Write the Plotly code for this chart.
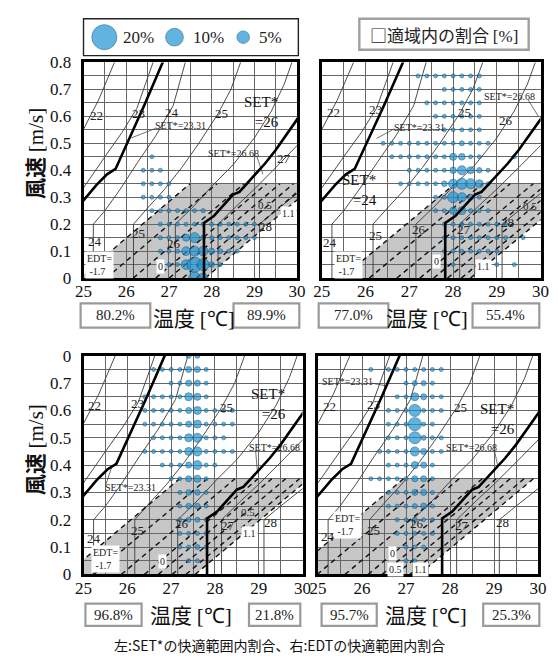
import plotly.graph_objects as go

W, H = 558, 666
SERIF = "Liberation Serif"
CJK = "Noto Sans CJK JP"

# ---------------- data ----------------
X_TICKS = [25, 26, 27, 28, 29, 30]
Y_TICKS = [0.0, 0.1, 0.2, 0.3, 0.4, 0.5, 0.6, 0.7, 0.8]
Y_LABELS_TOP = ["0", "0.1", "0.2", "0.3", "0.4", "0.5", "0.6", "0.7", "0.8"]
Y_LABELS_BOTTOM = ["0", "0.1", "0.2", "0.3", "0.4", "0.5", "0.6", "0.7", "0"]

LEGEND_PCT = [20, 10, 5]
LEGEND_LABELS = ["20%", "10%", "5%"]

# SET* iso-lines (temperature, air speed)
SET_THIN = {
    "22": ([24.7, 25.0, 25.35, 25.75], [0.46, 0.555, 0.66, 0.81]),
    "23": ([24.6, 25.0, 25.5, 25.9, 26.25, 26.65], [0.25, 0.335, 0.45, 0.54, 0.63, 0.81]),
    "24": ([25.23, 25.23, 25.5, 25.86, 26.27, 26.7, 27.1, 27.4], [0.0, 0.2, 0.25, 0.33, 0.43, 0.53, 0.64, 0.81]),
    "25": ([26.17, 26.17, 26.5, 26.9, 27.3, 27.7, 28.15, 28.45, 28.7], [0.0, 0.2, 0.26, 0.33, 0.41, 0.5, 0.61, 0.7, 0.81]),
    "26": ([27.15, 27.15, 27.6, 28.0, 28.5, 29.0, 29.4, 29.7, 29.9], [0.0, 0.2, 0.27, 0.34, 0.42, 0.52, 0.62, 0.72, 0.81]),
    "27": ([28.15, 28.15, 28.6, 29.0, 29.5, 30.05], [0.0, 0.2, 0.27, 0.33, 0.41, 0.5]),
    "28": ([29.12, 29.12, 29.5, 30.05], [0.0, 0.2, 0.25, 0.32]),
}
SET_THICK = {
    "23.31": ([24.5, 25.0, 25.3, 25.55, 25.75, 26.08, 26.42, 26.88], [0.2, 0.288, 0.345, 0.385, 0.405, 0.52, 0.64, 0.81]),
    "26.68": ([27.82, 27.82, 28.05, 28.5, 28.65, 29.05, 29.25, 29.5, 29.75, 30.05], [0.0, 0.205, 0.23, 0.31, 0.32, 0.39, 0.425, 0.475, 0.53, 0.6]),
}

# EDT comfort band (-1.7 .. 1.1, v < 0.35), per panel
EDT_VALUES = [-1.7, -1.1, -0.5, 0.0, 0.3, 0.6, 0.9, 1.1]
EDT_LEFT = [24.9, 25.45, 24.6, 24.35]     # x at v=0 of EDT=-1.7
EDT_RIGHT = [27.85, 28.4, 27.55, 27.3]    # x at v=0 of EDT=+1.1
EDT_SLOPE = 0.135
EDT_VTOP = 0.35

# bubble data: {air speed: [(temperature, share %), ...]}
TL_BUBBLES = {
    0.45: [(26.6, 0.13)],
    0.40: [(26.4, 0.13), (26.6, 0.5), (26.8, 0.13)],
    0.35: [(26.4, 0.13), (26.6, 0.2), (26.8, 0.3), (27.0, 0.13)],
    0.30: [(26.4, 0.13), (26.6, 0.3), (26.8, 0.3), (27.0, 0.3)],
    0.25: [(26.6, 0.13), (26.8, 0.3), (27.0, 0.3), (27.2, 0.3), (27.4, 0.3), (27.6, 0.3), (27.8, 0.6)],
    0.20: [(26.8, 0.13), (27.0, 0.3), (27.2, 0.3), (27.4, 0.3), (27.6, 0.3), (27.8, 0.2), (28.0, 0.3),
           (28.2, 0.3), (28.4, 0.2), (28.6, 0.2), (28.8, 0.13), (29.0, 0.13)],
    0.15: [(26.8, 0.13), (27.0, 0.3), (27.2, 0.5), (27.4, 1.6), (27.6, 3.2), (27.8, 0.8), (28.0, 0.3),
           (28.2, 0.5), (28.4, 0.5), (28.6, 0.4), (28.8, 0.3), (29.0, 0.13)],
    0.10: [(26.8, 0.13), (27.0, 0.13), (27.2, 0.6), (27.4, 2.4), (27.6, 3.2), (27.8, 3.0), (28.0, 1.15),
           (28.2, 0.8), (28.4, 0.5), (28.6, 0.2)],
    0.05: [(27.0, 0.13), (27.2, 0.4), (27.4, 3.0), (27.6, 7.2), (27.8, 4.6), (28.0, 1.0), (28.2, 0.4)],
    0.00: [(27.6, 4.6), (27.8, 3.2)],
}
TR_BUBBLES = {
    0.75: [(27.2, 0.13), (27.4, 0.13), (27.6, 0.13), (27.8, 0.13), (28.0, 0.13), (28.2, 0.13), (28.4, 0.5), (28.6, 0.13)],
    0.70: [(27.8, 0.13), (28.0, 0.13), (28.2, 0.13), (28.4, 0.3), (28.6, 0.13)],
    0.65: [(27.4, 0.13), (27.6, 0.13), (27.8, 0.13), (28.0, 0.13), (28.2, 0.13), (28.4, 0.5), (28.6, 0.13)],
    0.60: [(27.6, 0.13), (27.8, 0.13), (28.0, 0.13), (28.2, 0.3), (28.4, 0.5), (28.6, 0.13)],
    0.55: [(27.8, 0.13), (28.0, 0.13), (28.2, 0.3), (28.4, 0.5), (28.6, 0.13)],
    0.50: [(26.4, 0.13), (26.6, 0.13), (26.8, 0.13), (27.0, 0.13), (27.2, 0.13), (27.4, 0.13), (27.6, 0.13),
           (27.8, 0.13), (28.0, 0.13), (28.2, 0.8), (28.4, 0.5), (28.6, 0.3), (28.8, 0.13)],
    0.45: [(26.6, 0.13), (26.8, 0.13), (27.0, 0.2), (27.2, 0.3), (27.4, 0.2), (27.6, 0.3), (27.8, 0.3),
           (28.0, 1.6), (28.2, 1.4), (28.4, 0.5), (28.6, 0.2), (29.4, 0.13)],
    0.40: [(27.0, 0.3), (27.2, 0.3), (27.4, 0.3), (27.6, 0.3), (27.8, 0.5), (28.0, 1.3), (28.2, 2.6),
           (28.4, 1.6), (28.6, 0.9), (28.8, 0.13)],
    0.35: [(26.8, 0.13), (27.0, 0.13), (27.2, 0.13), (27.4, 0.13), (27.6, 0.3), (27.8, 1.0), (28.0, 2.6),
           (28.2, 3.9), (28.4, 3.2), (28.6, 2.0), (28.8, 0.13)],
    0.30: [(27.6, 0.3), (27.8, 0.5), (28.0, 3.9), (28.2, 2.6), (28.4, 1.15), (28.6, 0.3)],
    0.25: [(27.6, 0.13), (27.8, 0.5), (28.0, 1.6), (28.2, 2.0), (28.4, 0.6), (28.6, 0.3), (28.8, 0.13)],
    0.20: [(27.8, 0.3), (28.0, 0.5), (28.2, 0.5), (28.4, 0.5), (28.6, 0.5), (28.8, 0.4), (29.0, 0.13), (29.2, 0.13)],
    0.15: [(27.8, 0.3), (28.0, 0.3), (28.2, 0.5), (28.4, 0.3), (28.6, 0.3), (28.8, 0.3), (29.0, 0.13),
           (29.2, 0.13), (29.6, 0.13)],
    0.10: [(27.8, 0.13), (28.0, 0.3), (28.2, 0.3), (28.4, 0.3), (28.6, 0.3), (28.8, 0.3), (29.0, 0.2)],
    0.05: [(28.0, 0.13), (29.0, 0.13), (29.4, 0.13)],
}
BL_BUBBLES = {
    0.80: [(27.4, 0.8), (27.6, 0.8)],
    0.75: [(26.6, 0.13), (26.8, 0.13), (27.0, 0.13), (27.2, 0.3), (27.4, 1.15), (27.6, 1.15), (27.8, 0.3)],
    0.70: [(27.0, 0.13), (27.2, 0.3), (27.4, 1.15), (27.6, 1.15), (27.8, 0.3)],
    0.65: [(26.4, 0.13), (26.6, 0.13), (26.8, 0.13), (27.0, 0.13), (27.2, 0.3), (27.4, 2.0), (27.6, 1.6), (27.8, 0.3)],
    0.60: [(26.4, 0.13), (26.6, 0.13), (26.8, 0.13), (27.0, 0.13), (27.2, 0.3), (27.4, 1.15), (27.6, 2.0),
           (27.8, 0.3), (28.0, 0.13), (28.2, 0.13), (28.4, 0.13)],
    0.55: [(26.4, 0.13), (26.6, 0.13), (26.8, 0.13), (27.0, 0.13), (27.2, 0.3), (27.4, 1.15), (27.6, 2.0),
           (27.8, 0.3), (28.0, 0.13), (28.2, 0.13), (28.4, 0.13)],
    0.50: [(26.6, 0.13), (26.8, 0.13), (27.0, 0.13), (27.2, 0.3), (27.4, 2.0), (27.6, 2.6), (27.8, 0.3),
           (28.0, 0.13), (28.2, 0.13)],
    0.45: [(26.4, 0.13), (26.6, 0.13), (26.8, 0.13), (27.0, 0.13), (27.2, 0.3), (27.4, 2.0), (27.6, 2.6),
           (27.8, 0.3), (28.0, 0.13), (28.2, 0.13), (28.4, 0.13)],
    0.40: [(26.8, 0.13), (27.0, 0.13), (27.2, 0.3), (27.4, 1.15), (27.6, 2.6), (27.8, 0.3), (28.0, 0.13)],
    0.35: [(27.0, 0.13), (27.2, 0.3), (27.4, 1.15), (27.6, 1.6), (27.8, 0.3)],
    0.30: [(27.2, 0.3), (27.4, 1.0), (27.6, 1.0), (27.8, 0.3)],
    0.25: [(27.2, 0.3), (27.4, 1.0), (27.6, 1.0), (27.8, 0.3)],
    0.20: [(27.2, 0.3), (27.4, 0.8), (27.6, 0.8), (27.8, 0.3)],
    0.15: [(27.2, 0.3), (27.4, 0.5), (27.6, 0.5), (27.8, 0.3)],
    0.10: [(27.2, 0.3), (27.4, 0.5), (27.6, 0.8), (27.8, 0.3)],
    0.05: [(27.4, 0.3), (27.6, 0.3)],
}
BR_BUBBLES = {
    0.75: [(26.2, 0.13), (26.6, 0.13), (26.8, 0.13), (27.0, 0.3), (27.2, 0.3), (27.4, 0.3), (27.6, 0.13), (27.8, 0.13)],
    0.70: [(27.0, 0.3), (27.2, 0.8), (27.4, 0.8), (27.6, 0.13)],
    0.65: [(26.8, 0.13), (27.0, 0.3), (27.2, 2.0), (27.4, 1.15), (27.6, 0.13), (27.8, 0.13)],
    0.60: [(26.6, 0.13), (26.8, 0.13), (27.0, 0.3), (27.2, 4.6), (27.4, 0.5), (27.6, 0.3), (27.8, 0.13)],
    0.55: [(26.6, 0.13), (26.8, 0.2), (27.0, 0.3), (27.2, 5.4), (27.4, 0.5), (27.6, 0.13)],
    0.50: [(26.6, 0.13), (26.8, 0.2), (27.0, 0.3), (27.2, 4.6), (27.4, 0.8), (27.6, 0.3), (27.8, 0.13)],
    0.45: [(26.4, 0.13), (26.6, 0.13), (26.8, 0.13), (27.0, 0.3), (27.2, 2.6), (27.4, 1.15), (27.6, 0.3), (27.8, 0.13)],
    0.40: [(26.6, 0.13), (26.8, 0.13), (27.0, 0.3), (27.2, 1.6), (27.4, 1.15), (27.6, 0.3)],
    0.35: [(26.2, 0.13), (26.4, 0.13), (26.6, 0.13), (26.8, 0.3), (27.0, 0.3), (27.2, 1.15), (27.4, 1.15), (27.6, 0.3)],
    0.30: [(26.6, 0.13), (26.8, 0.3), (27.0, 0.5), (27.2, 1.15), (27.4, 1.15), (27.6, 0.3)],
    0.25: [(26.6, 0.13), (26.8, 0.3), (27.0, 0.5), (27.2, 0.8), (27.4, 1.15), (27.6, 0.3)],
    0.20: [(26.8, 0.3), (27.0, 0.3), (27.2, 0.8), (27.4, 0.5), (27.6, 0.3)],
    0.15: [(26.8, 0.3), (27.0, 0.3), (27.2, 0.3), (27.4, 0.5), (27.6, 0.3)],
    0.10: [(27.0, 0.3), (27.2, 0.3), (27.4, 0.3)],
    0.05: [(27.0, 0.13), (27.2, 0.13)],
}
PANEL_BUBBLES = [TL_BUBBLES, TR_BUBBLES, BL_BUBBLES, BR_BUBBLES]

# share inside comfort range: (SET*, EDT)
SHARES = [("80.2%", "89.9%"), ("77.0%", "55.4%"), ("96.8%", "21.8%"), ("95.7%", "25.3%")]

# in-chart labels: (text, temperature, air speed, font size)
TL_LABELS = [("22", 25.3, 0.605, 13), ("23", 26.28, 0.61, 13), ("24", 27.08, 0.615, 13), ("25", 28.22, 0.61, 13),
             ("SET*=23.31", 27.27, 0.566, 10), ("SET*=26.68", 28.5, 0.461, 10), ("27", 29.7, 0.443, 13),
             ("24", 25.26, 0.136, 13), ("25", 26.28, 0.165, 13), ("26", 27.12, 0.128, 13),
             ("0.5", 29.25, 0.271, 11), ("28", 29.25, 0.193, 13)]
TR_LABELS = [("22", 25.26, 0.614, 13), ("23", 26.22, 0.624, 13), ("25", 28.25, 0.614, 13), ("26", 29.22, 0.586, 13),
             ("SET*=23.31", 27.23, 0.56, 10), ("SET*=26.68", 29.3, 0.674, 10),
             ("24", 25.19, 0.133, 13), ("25", 26.22, 0.157, 13), ("26", 27.21, 0.181, 13),
             ("27", 28.25, 0.181, 13), ("28", 29.24, 0.205, 13), ("0.5", 29.76, 0.268, 11)]
BL_LABELS = [("22", 25.25, 0.618, 13), ("23", 26.24, 0.624, 13), ("25", 28.27, 0.612, 13),
             ("SET*=26.68", 29.35, 0.464, 10), ("SET*=23.31", 26.08, 0.319, 10),
             ("24", 25.23, 0.132, 13), ("25", 26.24, 0.161, 13), ("26", 27.24, 0.185, 13),
             ("27", 28.3, 0.179, 13), ("28", 29.26, 0.191, 13), ("0.5", 28.75, 0.227, 11)]
BR_LABELS = [("SET*=23.31", 25.67, 0.707, 10), ("22", 25.27, 0.614, 13), ("23", 26.25, 0.622, 13),
             ("25", 28.24, 0.612, 13), ("SET*=26.68", 28.49, 0.464, 10),
             ("24", 25.23, 0.138, 13), ("25", 26.26, 0.161, 13), ("26", 27.25, 0.185, 13),
             ("27", 28.28, 0.179, 13), ("28", 29.19, 0.191, 13)]
PANEL_LABELS = [TL_LABELS, TR_LABELS, BL_LABELS, BR_LABELS]

# two-line big SET* labels: (text, right-edge temperature, centre air speed)
PANEL_BIG = [("SET*<br>=26", 29.62, 0.617), ("SET*<br>=24", 26.3, 0.326),
             ("SET*<br>=26", 29.66, 0.625), ("SET*<br>=26", 29.52, 0.567)]

# boxed labels (white background)
TL_BOXED = [("EDT=<br> -1.7", 25.38, 0.05), ("0", 26.8, 0.043), ("1.1", 29.8, 0.241)]
TR_BOXED = [("EDT=<br> -1.7", 25.6, 0.05), ("0", 27.62, 0.061), ("1.1", 28.69, 0.043)]
BL_BOXED = [("EDT=<br> -1.7", 25.5, 0.055), ("0", 26.8, 0.049), ("1.1", 28.78, 0.149)]
BR_BOXED = [("EDT=<br> -1.7", 25.68, 0.18), ("0", 26.69, 0.078), ("0.5", 26.77, 0.019), ("1.1", 27.32, 0.019)]
PANEL_BOXED = [TL_BOXED, TR_BOXED, BL_BOXED, BR_BOXED]

# leader lines from labels to iso-lines
TL_LEADERS = [([26.68, 26.12], [0.555, 0.52]), ([29.06, 29.2], [0.45, 0.385])]
TR_LEADERS = [([26.66, 26.25], [0.554, 0.518]), ([29.72, 29.95], [0.66, 0.6])]
BL_LEADERS = [([28.93, 28.97], [0.452, 0.375]), ([25.51, 25.64], [0.33, 0.39])]
BR_LEADERS = [([26.22, 26.55], [0.70, 0.69]), ([29.01, 29.08], [0.452, 0.40])]
PANEL_LEADERS = [TL_LEADERS, TR_LEADERS, BL_LEADERS, BR_LEADERS]

# ---------------- layout geometry (pixels) ----------------
PANEL_PX = [(77, 297.7, 55, 277), (323.3, 549.3, 55, 277), (77, 303.3, 357, 582), (319.3, 546.7, 357, 582)]
SHARE_BOX_PX = [((74, 146), (232, 300), (303, 328)), ((320, 392), (479, 548), (303, 328)),
                ((79, 137), (248, 301), (612, 635)), ((323, 380), (490, 548), (612, 635))]
XTITLE_PX = [(191, 317), (432, 317), (188, 623), (431, 623)]

SIZEREF = 2.0 * 20 / 25 ** 2
BUBBLE_FILL = "#1f95d2"
BUBBLE_LINE = "#0c4f7c"
GRID = "#666666"


def px(x):
    return x / W


def py(y):
    return 1 - y / H


def paper_text(text, x, y, family, size, color="#222", angle=0):
    return dict(text=text, x=px(x), y=py(y), xref="paper", yref="paper", showarrow=False,
                xanchor="center", yanchor="middle", textangle=angle,
                font=dict(family=family, size=size, color=color))


fig = go.Figure()
annotations = []
shapes = []

for i in range(4):
    suf = "" if i == 0 else str(i + 1)
    xa, ya = "x" + suf, "y" + suf
    x0p, x1p, y0p, y1p = PANEL_PX[i]
    left = i in (0, 2)
    fig.update_layout(**{
        "xaxis" + suf: dict(domain=[px(x0p), px(x1p)], range=[25, 30], anchor=ya,
                            tickmode="array", tickvals=X_TICKS, ticktext=[str(t) for t in X_TICKS],
                            showgrid=True, gridcolor=GRID, gridwidth=0.8, zeroline=False,
                            minor=dict(tickmode="linear", tick0=25, dtick=0.5, showgrid=True,
                                       gridcolor=GRID, gridwidth=0.8, ticks=""),
                            showline=True, mirror=True, linewidth=2.6, linecolor="black",
                            ticks="", ticklabelstandoff=-4,
                            tickfont=dict(family=SERIF, size=17, color="#111"), fixedrange=True),
        "yaxis" + suf: dict(domain=[py(y1p), py(y0p)], range=[0, 0.8], anchor=xa,
                            tickmode="array", tickvals=Y_TICKS,
                            ticktext=Y_LABELS_TOP if i < 2 else Y_LABELS_BOTTOM,
                            showticklabels=left,
                            showgrid=True, gridcolor=GRID, gridwidth=0.8, zeroline=False,
                            minor=dict(tickmode="linear", tick0=0, dtick=0.05, showgrid=True,
                                       gridcolor=GRID, gridwidth=0.8, ticks=""),
                            showline=True, mirror=True, linewidth=2.6, linecolor="black",
                            ticks="", ticklabelstandoff=6,
                            tickfont=dict(family=SERIF, size=17, color="#111"), fixedrange=True),
    })

    # gray EDT comfort band
    L, R = EDT_LEFT[i], EDT_RIGHT[i]
    dx = EDT_VTOP / EDT_SLOPE
    path = f"M {L},0 L {L + dx},{EDT_VTOP} L {R + dx},{EDT_VTOP} L {R},0 Z"
    shapes.append(dict(type="path", path=path, xref=xa, yref=ya, layer="below",
                       fillcolor="#c6c6c6", line=dict(width=0)))

    # thin SET* lines
    for name, (xs, vs) in SET_THIN.items():
        fig.add_trace(go.Scatter(x=xs, y=vs, mode="lines", xaxis=xa, yaxis=ya,
                                 line=dict(color="#3a3a3a", width=0.9), hoverinfo="skip", showlegend=False))
    # EDT dashed lines
    for e in EDT_VALUES:
        x0 = L + (e - EDT_VALUES[0]) / (EDT_VALUES[-1] - EDT_VALUES[0]) * (R - L)
        fig.add_trace(go.Scatter(x=[x0, x0 + dx], y=[0, EDT_VTOP], mode="lines", xaxis=xa, yaxis=ya,
                                 line=dict(color="#111", width=1.4, dash="5px,4px"),
                                 hoverinfo="skip", showlegend=False))
    # leaders
    for xs, vs in PANEL_LEADERS[i]:
        fig.add_trace(go.Scatter(x=xs, y=vs, mode="lines", xaxis=xa, yaxis=ya,
                                 line=dict(color="#333", width=0.7), hoverinfo="skip", showlegend=False))
    # bubbles
    bx, bv, bp = [], [], []
    for v, row in PANEL_BUBBLES[i].items():
        for t, p in row:
            bx.append(t)
            bv.append(v)
            bp.append(p)
    fig.add_trace(go.Scatter(x=bx, y=bv, mode="markers", xaxis=xa, yaxis=ya,
                             marker=dict(size=bp, sizemode="area", sizeref=SIZEREF, sizemin=2,
                                         color=BUBBLE_FILL, line=dict(color=BUBBLE_LINE, width=0.8)),
                             hoverinfo="skip", showlegend=False))
    # thick SET* lines
    for name, (xs, vs) in SET_THICK.items():
        fig.add_trace(go.Scatter(x=xs, y=vs, mode="lines", xaxis=xa, yaxis=ya,
                                 line=dict(color="black", width=2.6), hoverinfo="skip", showlegend=False))

    # labels
    for text, t, v, s in PANEL_LABELS[i]:
        annotations.append(dict(text=text, x=t, y=v, xref=xa, yref=ya, showarrow=False,
                                xanchor="center", yanchor="middle",
                                font=dict(family=SERIF, size=s, color="#222")))
    big_text, big_x, big_v = PANEL_BIG[i]
    annotations.append(dict(text=big_text, x=big_x, y=big_v, xref=xa, yref=ya, showarrow=False,
                            xanchor="right", yanchor="middle", align="right",
                            font=dict(family=SERIF, size=15, color="#111")))
    for text, t, v in PANEL_BOXED[i]:
        annotations.append(dict(text=text, x=t, y=v, xref=xa, yref=ya, showarrow=False, align="left",
                                xanchor="center", yanchor="middle", bgcolor="white", borderpad=1,
                                font=dict(family=SERIF, size=10, color="#222")))

    # share boxes + x title
    (a0, a1), (b0, b1), (yy0, yy1) = SHARE_BOX_PX[i]
    for (c0, c1), txt in zip(((a0, a1), (b0, b1)), SHARES[i]):
        shapes.append(dict(type="rect", xref="paper", yref="paper", x0=px(c0), x1=px(c1),
                           y0=py(yy1), y1=py(yy0), line=dict(color="#9a9a9a", width=2.2),
                           fillcolor="white"))
        annotations.append(paper_text(txt, (c0 + c1) / 2, (yy0 + yy1) / 2, SERIF, 15))
    tx, ty = XTITLE_PX[i]
    annotations.append(paper_text('温度 <span style="font-family:Liberation Serif">[℃]</span>',
                                  tx, ty, CJK, 21, "#111"))

# y titles
for cy in (149, 454):
    annotations.append(paper_text('<b>風速</b> <span style="font-family:Liberation Serif">[m/s]</span>',
                                  26, cy, CJK, 21, "#111", angle=-90))

# legend box (size scale)
LEG_X_PX = [98.5, 171, 242]
LEG_TXT_PX = [134, 206, 270]
fig.update_layout(
    xaxis5=dict(domain=[px(77), px(299)], range=[77, 299], visible=False, anchor="y5", fixedrange=True),
    yaxis5=dict(domain=[py(48), py(10)], range=[48, 10], visible=False, anchor="x5", fixedrange=True),
)
fig.add_trace(go.Scatter(x=LEG_X_PX, y=[29, 29, 29], mode="markers", xaxis="x5", yaxis="y5",
                         marker=dict(size=LEGEND_PCT, sizemode="area", sizeref=SIZEREF,
                                     color=BUBBLE_FILL, line=dict(color=BUBBLE_LINE, width=0.8)),
                         cliponaxis=False, hoverinfo="skip", showlegend=False))
shapes.append(dict(type="rect", xref="paper", yref="paper", x0=px(77), x1=px(299), y0=py(48), y1=py(10),
                   line=dict(color="#222", width=1.4)))
for xt, lab in zip(LEG_TXT_PX, LEGEND_LABELS):
    annotations.append(paper_text(lab, xt, 29, SERIF, 17))

# right header box
shapes.append(dict(type="rect", xref="paper", yref="paper", x0=px(362), x1=px(537), y0=py(42), y1=py(10),
                   line=dict(color="#a0a0a0", width=2.4)))
annotations.append(paper_text('□適域内の割合 <span style="font-family:Liberation Serif">[%]</span>',
                              449.5, 26, CJK, 17))

# caption
annotations.append(paper_text("左:SET*の快適範囲内割合、右:EDTの快適範囲内割合", 279, 655, CJK, 14, "#111"))

fig.update_layout(width=W, height=H, margin=dict(l=0, r=0, t=0, b=0),
                  paper_bgcolor="white", plot_bgcolor="white",
                  annotations=annotations, shapes=shapes, showlegend=False)

fig.write_html("out.html", config={"displayModeBar": False},
               post_script="document.body.style.margin='0px';document.body.style.overflow='hidden';")
